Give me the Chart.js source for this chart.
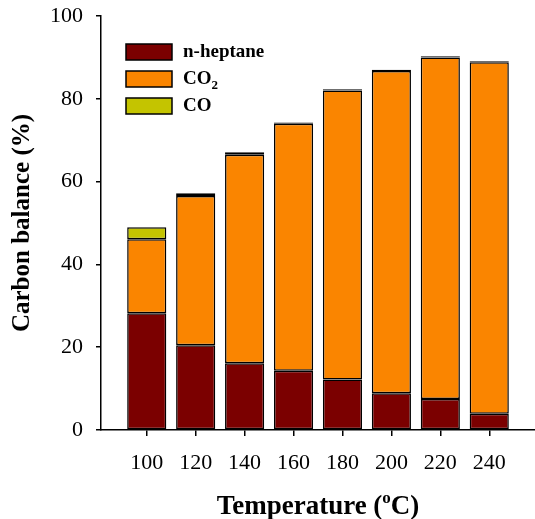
<!DOCTYPE html>
<html>
<head>
<meta charset="utf-8">
<script src="https://cdn.jsdelivr.net/npm/chart.js@4/dist/chart.umd.min.js"></script>
<style>
  html, body { margin: 0; padding: 0; background: #fff; }
  #wrap { width: 535px; height: 519px; }
</style>
</head>
<body>
<div id="wrap"><canvas id="chart"></canvas></div>
<script>
// temperaturas (°C) e composição do balanço de carbono (%)
const temperaturas = [100, 120, 140, 160, 180, 200, 220, 240];
const nHeptano = [28.2, 20.5, 16.1, 14.3, 12.2, 8.9, 7.5, 3.9];
const co2 = [17.9, 36.0, 50.4, 59.7, 69.8, 77.8, 82.5, 84.9];
const co = [2.9, 0.7, 0.6, 0.3, 0.3, 0.3, 0.3, 0.3];
const ticksY = [0, 20, 40, 60, 80, 100];

const serif = "'Liberation Serif', 'Times New Roman', serif";

const pares = (vals) => temperaturas.map((t, i) => ({ x: t, y: vals[i] }));

const serieBase = {
    borderColor: '#000',
    borderWidth: 1.5,
    borderSkipped: false,
    categoryPercentage: 0.8,
    barPercentage: 1
};

// legenda desenhada dentro da área do gráfico, com subscrito no CO2
const legendaInterna = {
    id: 'legendaInterna',
    afterDraw(chart) {
        const c = chart.ctx;
        const area = chart.chartArea;
        const nomes = [['n-heptane', ''], ['CO', '2'], ['CO', '']];
        c.save();
        chart.data.datasets.forEach((ds, i) => {
            const x = area.left + 25;
            const y = area.top + 28 + i * 27;
            c.fillStyle = ds.backgroundColor;
            c.fillRect(x, y, 46, 16);
            c.strokeStyle = '#000';
            c.lineWidth = 1.5;
            c.strokeRect(x, y, 46, 16);
            c.fillStyle = '#000';
            c.font = 'bold 19px ' + serif;
            c.textBaseline = 'middle';
            c.fillText(nomes[i][0], x + 57, y + 8);
            if (nomes[i][1]) {
                const w = c.measureText(nomes[i][0]).width;
                c.font = 'bold 13px ' + serif;
                c.fillText(nomes[i][1], x + 57 + w, y + 15);
            }
        });
        c.restore();
    }
};

// título do eixo X com o "o" sobrescrito
const tituloX = {
    id: 'tituloX',
    afterDraw(chart) {
        const c = chart.ctx;
        const area = chart.chartArea;
        const partes = [['Temperature (', 27, 0], ['o', 17, -11], ['C)', 27, 0]];
        c.save();
        c.fillStyle = '#000';
        c.textBaseline = 'alphabetic';
        let total = 0;
        partes.forEach(p => { c.font = 'bold ' + p[1] + 'px ' + serif; total += c.measureText(p[0]).width; });
        let x = (area.left + area.right) / 2 - total / 2;
        const yBase = 514;
        partes.forEach(p => {
            c.font = 'bold ' + p[1] + 'px ' + serif;
            c.fillText(p[0], x, yBase + p[2]);
            x += c.measureText(p[0]).width;
        });
        c.restore();
    }
};

new Chart(document.getElementById('chart'), {
    type: 'bar',
    data: {
        datasets: [
            { ...serieBase, label: 'n-heptane', data: pares(nHeptano), backgroundColor: '#7b0000' },
            { ...serieBase, label: 'CO2', data: pares(co2), backgroundColor: '#fa8500' },
            { ...serieBase, label: 'CO', data: pares(co), backgroundColor: '#c4c400' }
        ]
    },
    options: {
        responsive: true,
        maintainAspectRatio: false,
        animation: false,
        layout: { padding: { top: 16, right: 0, bottom: 0, left: 0 } },
        plugins: { legend: { display: false }, tooltip: { enabled: false } },
        scales: {
            x: {
                type: 'linear',
                stacked: true,
                offset: false,
                min: 81.3,
                max: 258.7,
                afterBuildTicks: (s) => { s.ticks = temperaturas.map(v => ({ value: v })); },
                afterFit: (s) => { s.height = 89; s.paddingLeft = 0; s.paddingRight = 0; },
                border: { color: '#000', width: 1.5 },
                grid: { offset: false, drawOnChartArea: false, drawTicks: true, tickLength: 6, color: '#000', lineWidth: 1.5 },
                ticks: { color: '#000', font: { family: serif, size: 22 }, padding: 14, maxRotation: 0 }
            },
            y: {
                stacked: true,
                min: 0,
                max: 100,
                afterBuildTicks: (s) => { s.ticks = ticksY.map(v => ({ value: v })); },
                afterFit: (s) => { s.width = 101; s.paddingTop = 0; s.paddingBottom = 0; },
                border: { color: '#000', width: 1.5 },
                grid: { drawOnChartArea: false, drawTicks: true, tickLength: 5, color: '#000', lineWidth: 1.5 },
                ticks: { color: '#000', font: { family: serif, size: 22 }, padding: 13 },
                title: {
                    display: true,
                    text: 'Carbon balance (%)',
                    color: '#000',
                    font: { family: serif, size: 25, weight: 'bold' },
                    padding: { top: 8, bottom: 0 }
                }
            }
        }
    },
    plugins: [legendaInterna, tituloX]
});
</script>
</body>
</html>
